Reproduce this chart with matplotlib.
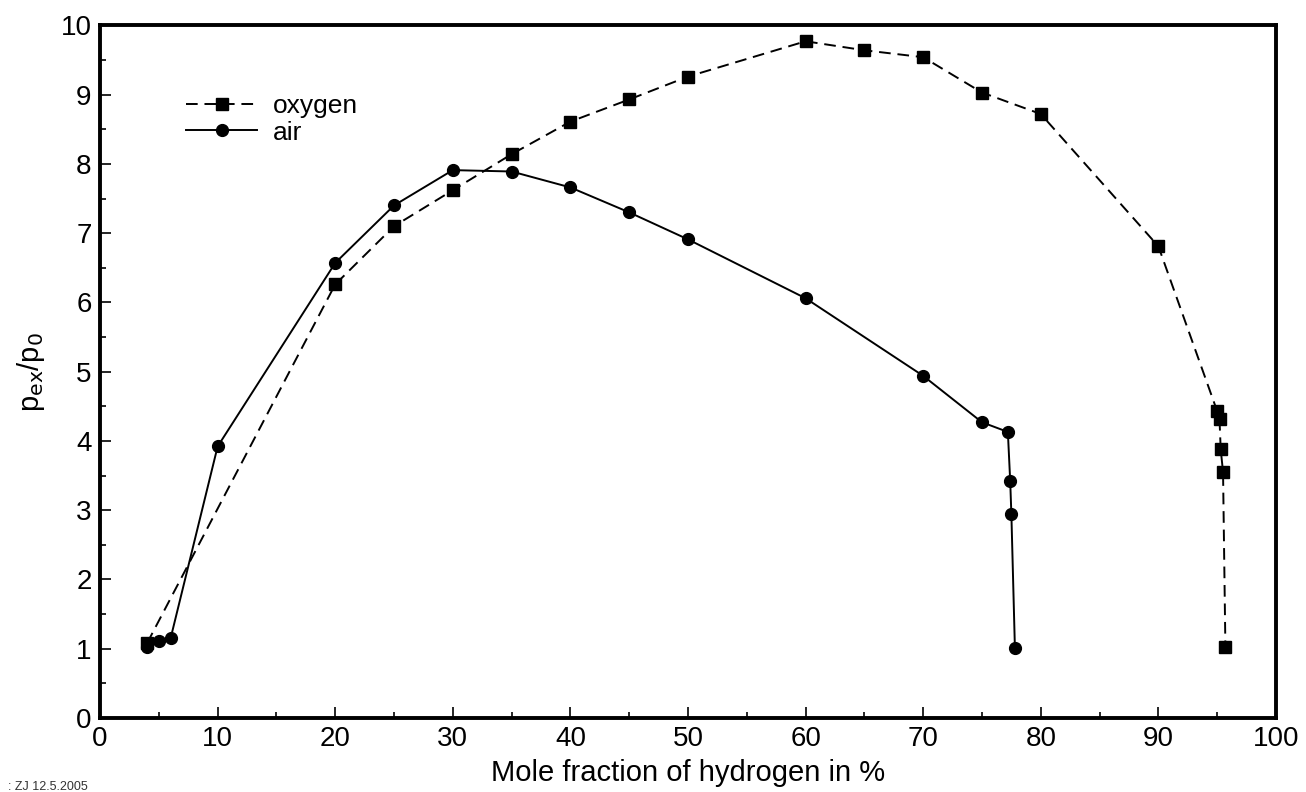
import matplotlib
matplotlib.use("Agg")
import matplotlib.pyplot as plt
from matplotlib.ticker import MultipleLocator

plt.rcParams["font.family"] = ["Liberation Sans", "DejaVu Sans"]

# hydrogen-oxygen mixtures
oxygen_x = [4, 20, 25, 30, 35, 40, 45, 50, 60, 65, 70, 75, 80, 90,
            95.0, 95.2, 95.3, 95.5, 95.7]
oxygen_y = [1.08, 6.26, 7.10, 7.62, 8.14, 8.61, 8.93, 9.26, 9.77, 9.64,
            9.54, 9.03, 8.72, 6.81, 4.43, 4.31, 3.88, 3.55, 1.02]

# hydrogen-air mixtures
air_x = [4, 5, 6, 10, 20, 25, 30, 35, 40, 45, 50, 60, 70, 75,
         77.2, 77.4, 77.5, 77.8]
air_y = [1.02, 1.11, 1.15, 3.92, 6.57, 7.40, 7.91, 7.89, 7.66, 7.30,
         6.91, 6.06, 4.94, 4.27, 4.13, 3.42, 2.94, 1.01]

fig = plt.figure(figsize=(13.06, 7.92), dpi=100)
ax = fig.add_axes([0.0766, 0.0934, 0.9004, 0.8746])

ax.plot(oxygen_x, oxygen_y, color="black", lw=1.4, ls=(0, (6, 3.5)),
        marker="s", markersize=9, label="oxygen")
ax.plot(air_x, air_y, color="black", lw=1.4, ls="-",
        marker="o", markersize=8.5, label="air")

ax.set_xlim(0, 100)
ax.set_ylim(0, 10)
ax.xaxis.set_major_locator(MultipleLocator(10))
ax.xaxis.set_minor_locator(MultipleLocator(5))
ax.yaxis.set_major_locator(MultipleLocator(1))
ax.yaxis.set_minor_locator(MultipleLocator(0.5))
ax.tick_params(which="both", direction="in", top=False, right=False,
               labelsize=20, width=1.2, pad=6)
ax.tick_params(which="major", length=8)
ax.tick_params(which="minor", length=4)
for s in ax.spines.values():
    s.set_linewidth(2.8)

ax.set_xlabel("Mole fraction of hydrogen in %", fontsize=21, labelpad=5)
ax.set_ylabel(r"p$_{\rm ex}$/p$_{\rm 0}$", fontsize=21, labelpad=10)

ax.legend(loc="upper left", bbox_to_anchor=(0.062, 0.92), frameon=False,
          fontsize=19, handlelength=2.7, handletextpad=0.6,
          labelspacing=0.1, borderpad=0)

fig.text(0.006, 0.002, ": ZJ 12.5.2005", fontsize=9, color="#333333")

fig.savefig("out.png", dpi=100)
